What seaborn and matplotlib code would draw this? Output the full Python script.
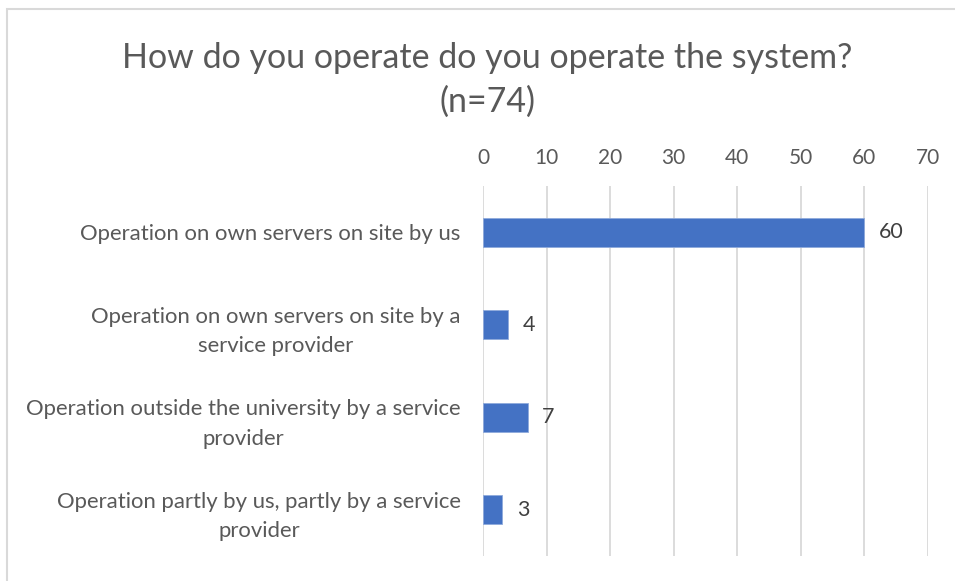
import matplotlib
matplotlib.use('Agg')
import matplotlib.pyplot as plt
import seaborn as sns
import pandas as pd

# Data
categories = [
    "Operation on own servers on site by us",
    "Operation on own servers on site by a\nservice provider",
    "Operation outside the university by a service\nprovider",
    "Operation partly by us, partly by a service\nprovider",
]
counts = [60, 4, 7, 3]
x_ticks = [0, 10, 20, 30, 40, 50, 60, 70]
title = "How do you operate do you operate the system?\n(n=74)"

df = pd.DataFrame({"category": categories, "count": counts})

sns.set_theme(style="white")
plt.rcParams['font.family'] = ['Lato', 'DejaVu Sans']

fig = plt.figure(figsize=(9.55, 5.81), dpi=100)
ax = fig.add_axes([0.5058, 0.043, 0.4659, 0.637])

sns.barplot(data=df, x="count", y="category", color="#4472C4", width=0.315,
            edgecolor="#8FAADC", linewidth=0.6, saturation=1, ax=ax)

ax.set_xlim(0, 70)
ax.set_ylim(3.5, -0.5)
ax.set_xticks(x_ticks)
ax.xaxis.tick_top()
ax.tick_params(axis='x', length=0, pad=13, labelsize=15, labelcolor="#595959")
ax.tick_params(axis='y', length=0, pad=16, labelsize=15.9, labelcolor="#595959")
for lbl in ax.get_yticklabels():
    lbl.set_multialignment('center')
    lbl.set_linespacing(1.6)
ax.xaxis.grid(True, color="#D9D9D9", linewidth=1.3)
ax.set_axisbelow(True)
for s in ax.spines.values():
    s.set_visible(False)
ax.set_xlabel("")
ax.set_ylabel("")

for i, v in enumerate(counts):
    ax.text(v + 2.3, i, str(v), va='center', ha='left', fontsize=15.5, color="#404040")

fig.text(0.51, 0.863, title, ha='center', va='center', fontsize=24.5,
         color="#595959", linespacing=1.45)

# chart frame (only top and left edges are visible in the crop)
fig.add_artist(plt.Rectangle((7 / 955, -0.1), 1.2, 1.1 - 9 / 581, transform=fig.transFigure,
                             fill=False, edgecolor="#D9D9D9", linewidth=1.5))

fig.savefig("out.png", dpi=100)
